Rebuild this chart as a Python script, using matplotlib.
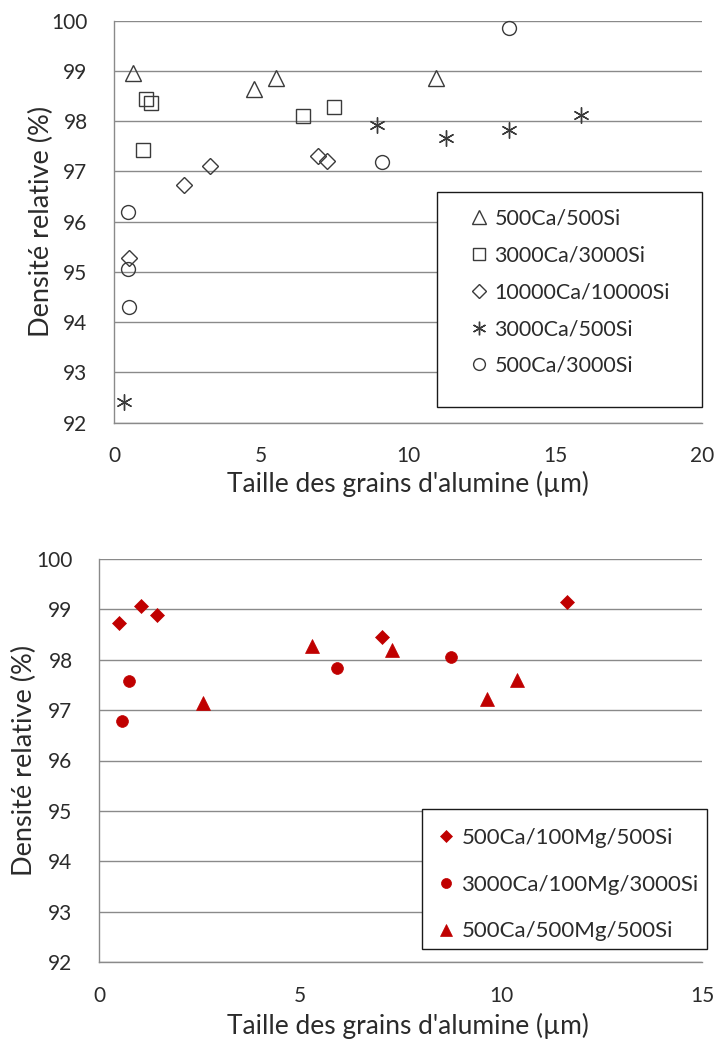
import matplotlib
matplotlib.use("Agg")
import matplotlib.pyplot as plt
from matplotlib.patches import Rectangle

plt.rcParams['font.family'] = ['Lato', 'DejaVu Sans']

# ---------------- data: top chart ----------------
s1_label = "500Ca/500Si"
s1_x = [0.65, 4.75, 5.5, 10.95]
s1_y = [98.95, 98.65, 98.85, 98.85]

s2_label = "3000Ca/3000Si"
s2_x = [1.09, 1.27, 0.99, 6.44, 7.48]
s2_y = [98.44, 98.36, 97.42, 98.11, 98.28]

s3_label = "10000Ca/10000Si"
s3_x = [2.39, 3.25, 6.93, 7.24, 0.5]
s3_y = [96.73, 97.10, 97.30, 97.20, 95.27]

s4_label = "3000Ca/500Si"
s4_x = [0.35, 8.96, 11.29, 13.43, 15.9]
s4_y = [92.42, 97.92, 97.66, 97.83, 98.12]

s5_label = "500Ca/3000Si"
s5_x = [0.47, 0.47, 0.5, 9.11, 13.45]
s5_y = [96.19, 95.05, 94.30, 97.19, 99.85]

# ---------------- data: bottom chart ----------------
b1_label = "500Ca/100Mg/500Si"
b1_x = [0.49, 1.05, 1.45, 7.05, 11.65]
b1_y = [98.72, 99.07, 98.89, 98.46, 99.15]

b2_label = "3000Ca/100Mg/3000Si"
b2_x = [0.56, 0.74, 5.91, 8.75]
b2_y = [96.79, 97.58, 97.83, 98.06]

b3_label = "500Ca/500Mg/500Si"
b3_x = [2.59, 5.31, 7.30, 9.65, 10.39]
b3_y = [97.15, 98.27, 98.20, 97.22, 97.60]

y_ticks = [92, 93, 94, 95, 96, 97, 98, 99, 100]
top_xticks = [0, 5, 10, 15, 20]
bot_xticks = [0, 5, 10, 15]
ylabel = "Densité relative (%)"
xlabel = "Taille des grains d'alumine (µm)"

# ---------------- figure ----------------
W, H = 716, 1039
fig = plt.figure(figsize=(W / 100, H / 100), dpi=100)
fig.patch.set_facecolor("white")


def fx(px):
    return px / W


def fy(py):
    return 1 - py / H


GRID = "#8a8a8a"
TXT = "#2b2b2b"
EDGE = "#3a3a3a"
RED = "#c00000"


def make_axes(left, right, top, bottom, xticks):
    ax = fig.add_axes([fx(left), fy(bottom), fx(right) - fx(left), fy(top) - fy(bottom)])
    ax.set_xlim(xticks[0], xticks[-1])
    ax.set_ylim(92, 100)
    ax.set_xticks(xticks)
    ax.set_yticks(y_ticks)
    ax.set_xticklabels([str(t) for t in xticks])
    ax.set_yticklabels([str(t) for t in y_ticks])
    for s in ("top", "right"):
        ax.spines[s].set_visible(False)
    for s in ("left", "bottom"):
        ax.spines[s].set_color(GRID)
        ax.spines[s].set_linewidth(1.0)
    ax.yaxis.grid(True, color=GRID, linewidth=1.0)
    ax.set_axisbelow(True)
    ax.tick_params(axis="both", length=0, labelsize=15, colors=TXT)
    ax.tick_params(axis="y", pad=19)
    ax.tick_params(axis="x", pad=17)
    return ax


# ---------------- top chart ----------------
ax1 = make_axes(114, 702, 20.7, 422.7, top_xticks)
common = dict(linestyle="none", markerfacecolor="none", markeredgecolor=EDGE,
              markeredgewidth=1.0, clip_on=False, zorder=3)
ax1.plot(s1_x, s1_y, marker="^", markersize=12, label=s1_label, **common)
ax1.plot(s2_x, s2_y, marker="s", markersize=10, label=s2_label, **common)
ax1.plot(s3_x, s3_y, marker="D", markersize=8.4, label=s3_label, **common)
ax1.plot(s4_x, s4_y, marker=(6, 2, 0), markersize=11.5, label=s4_label, **common)
ax1.plot(s5_x, s5_y, marker="o", markersize=10, label=s5_label, **common)

# legend frame
ax1.add_patch(Rectangle((fx(437), fy(407)), fx(702) - fx(437), fy(192) - fy(407),
                        transform=fig.transFigure, facecolor="white", edgecolor="#1a1a1a",
                        linewidth=1.0, clip_on=False, zorder=4))
leg1 = ax1.legend(loc="upper left", bbox_to_anchor=(fx(460), fy(198)),
                  bbox_transform=fig.transFigure, frameon=False, fontsize=15.5,
                  borderpad=0, handlelength=0.8, handletextpad=0.3, labelspacing=0.78,
                  markerscale=0.85, labelcolor=TXT)
leg1.set_zorder(5)

fig.text(fx(41), fy(221), ylabel, rotation=90, ha="center", va="center",
         fontsize=19.5, color=TXT)
fig.text(fx(408), fy(484), xlabel, ha="center", va="center", fontsize=19, color=TXT)

# ---------------- bottom chart ----------------
ax2 = make_axes(99, 702, 559, 962, bot_xticks)
fcommon = dict(linestyle="none", markerfacecolor=RED, markeredgecolor=RED,
               markeredgewidth=0.5, clip_on=False, zorder=3)
ax2.plot(b1_x, b1_y, marker="D", markersize=7.6, label=b1_label, **fcommon)
ax2.plot(b2_x, b2_y, marker="o", markersize=8.5, label=b2_label, **fcommon)
ax2.plot(b3_x, b3_y, marker="^", markersize=10.5, label=b3_label, **fcommon)

ax2.add_patch(Rectangle((fx(421.7), fy(949)), fx(706.7) - fx(421.7), fy(809) - fy(949),
                        transform=fig.transFigure, facecolor="white", edgecolor="#1a1a1a",
                        linewidth=1.0, clip_on=False, zorder=4))
leg2 = ax2.legend(loc="upper left", bbox_to_anchor=(fx(427), fy(817)),
                  bbox_transform=fig.transFigure, frameon=False, fontsize=16,
                  borderpad=0, handlelength=0.75, handletextpad=0.3, labelspacing=1.2,
                  markerscale=0.85, labelcolor=TXT)
leg2.set_zorder(5)

fig.text(fx(24), fy(760), ylabel, rotation=90, ha="center", va="center",
         fontsize=19.5, color=TXT)
fig.text(fx(408), fy(1026), xlabel, ha="center", va="center", fontsize=19, color=TXT)

fig.savefig("out.png", dpi=100, facecolor="white")
